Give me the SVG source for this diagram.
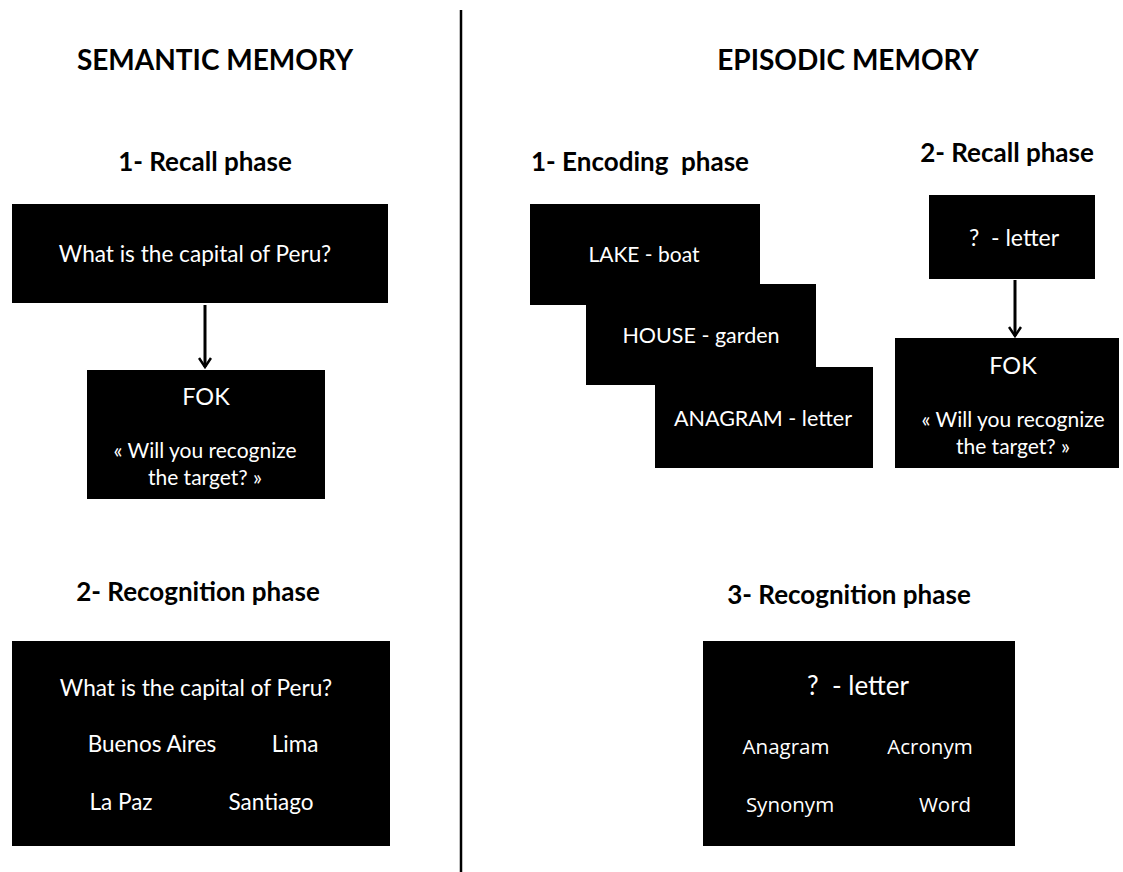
<svg xmlns="http://www.w3.org/2000/svg" width="1123" height="872" viewBox="0 0 1123 872">
<style>
.bg{fill:#fff}
.box{fill:#000}
.t{font-family:Lato,"Open Sans","Liberation Sans",sans-serif;fill:#fff;text-anchor:middle}
.h{font-family:Lato,"Open Sans","Liberation Sans",sans-serif;fill:#000;font-weight:bold;text-anchor:middle}
.o{font-family:"Open Sans","DejaVu Sans",sans-serif;fill:#fff;text-anchor:middle}
.c{stroke:#000;stroke-width:3;fill:none}
</style>
<defs>
<marker id="ah" viewBox="0 0 14 14" refX="12" refY="7" markerWidth="14" markerHeight="14" markerUnits="userSpaceOnUse" orient="auto">
<path d="M3,1 L12,7 L3,13" fill="none" stroke="#000" stroke-width="2.5"/>
</marker>
</defs>
<rect class="bg" x="0" y="0" width="1123" height="872"/>
<line x1="461" y1="10" x2="461" y2="872" stroke="#000" stroke-width="2.5"/>
<g id="titles">
<text class="h" x="215" y="70" font-size="28">SEMANTIC MEMORY</text>
<text class="h" x="848" y="70" font-size="28">EPISODIC MEMORY</text>
<text class="h" x="205" y="171" font-size="26">1- Recall phase</text>
<text class="h" x="198" y="601" font-size="26">2- Recognition phase</text>
<text class="h" x="640" y="171" font-size="26" xml:space="preserve">1- Encoding  phase</text>
<text class="h" x="1007" y="162" font-size="26">2- Recall phase</text>
<text class="h" x="849" y="604" font-size="26">3- Recognition phase</text>
</g>
<g id="connectors">
<line class="c" x1="205" y1="305" x2="205" y2="367" marker-end="url(#ah)"/>
<line class="c" x1="1015" y1="280" x2="1015" y2="336" marker-end="url(#ah)"/>
</g>
<g id="sem-recall-q">
<rect class="box" x="12" y="204" width="376" height="99"/>
<text class="t" x="195" y="262" font-size="22.6">What is the capital of Peru?</text>
</g>
<g id="sem-fok">
<rect class="box" x="87" y="370" width="238" height="129"/>
<text class="t" x="206" y="405" font-size="23.5">FOK</text>
<text class="t" x="205" y="458" font-size="21">« Will you recognize</text>
<text class="t" x="205" y="485" font-size="21">the target? »</text>
</g>
<g id="sem-recognition">
<rect class="box" x="12" y="641" width="378" height="205"/>
<text class="t" x="196" y="696" font-size="22.6">What is the capital of Peru?</text>
<text class="t" x="152" y="752" font-size="22.5">Buenos Aires</text>
<text class="t" x="295" y="752" font-size="22.5">Lima</text>
<text class="t" x="121" y="810" font-size="22.5">La Paz</text>
<text class="t" x="271" y="810" font-size="22.5">Santiago</text>
</g>
<g id="enc-lake">
<rect class="box" x="530" y="204" width="230" height="101"/>
<text class="t" x="644" y="262" font-size="21">LAKE - boat</text>
</g>
<g id="enc-house">
<rect class="box" x="586" y="284" width="230" height="101"/>
<text class="t" x="701" y="343" font-size="21.5">HOUSE - garden</text>
</g>
<g id="enc-anagram">
<rect class="box" x="655" y="367" width="218" height="101"/>
<text class="t" x="763" y="426" font-size="21.5">ANAGRAM - letter</text>
</g>
<g id="epi-recall-q">
<rect class="box" x="929" y="195" width="166" height="84"/>
<text class="t" x="1014" y="246" font-size="23" xml:space="preserve">?  - letter</text>
</g>
<g id="epi-fok">
<rect class="box" x="895" y="338" width="224" height="130"/>
<text class="t" x="1013" y="374" font-size="23.5">FOK</text>
<text class="t" x="1013" y="427" font-size="21">« Will you recognize</text>
<text class="t" x="1013" y="454" font-size="21">the target? »</text>
</g>
<g id="epi-recognition">
<rect class="box" x="703" y="641" width="312" height="205"/>
<text class="t" x="858" y="695" font-size="26" xml:space="preserve">?  - letter</text>
<text class="o" x="786" y="754" font-size="20.5">Anagram</text>
<text class="o" x="930" y="754" font-size="20.5">Acronym</text>
<text class="o" x="790" y="812" font-size="20.5">Synonym</text>
<text class="o" x="945" y="812" font-size="20.5">Word</text>
</g>
</svg>
